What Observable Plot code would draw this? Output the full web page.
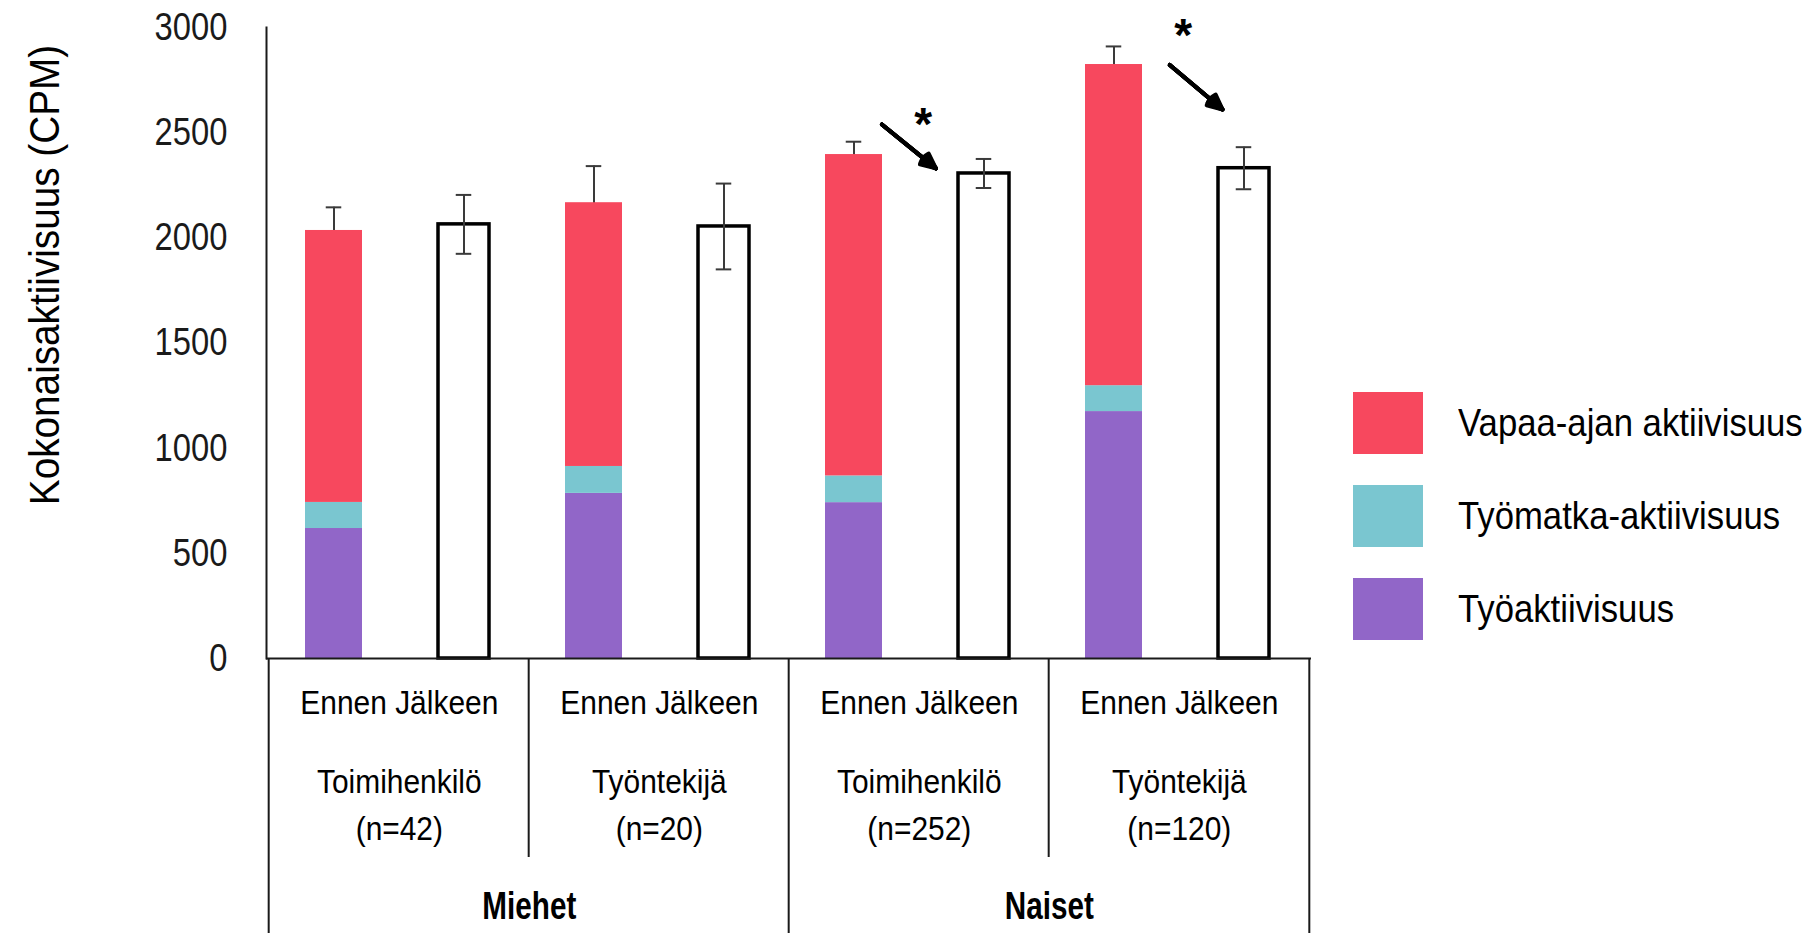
<!DOCTYPE html>
<html>
<head>
<meta charset="utf-8">
<script src="https://cdn.jsdelivr.net/npm/d3@7"></script>
<script src="https://cdn.jsdelivr.net/npm/@observablehq/plot@0.6"></script>
<style>
  body { margin: 0; background: #fff; font-family: "Liberation Sans", Arial, sans-serif; }
  #wrap { position: relative; width: 1808px; height: 933px; overflow: hidden; }
  #legend { position: absolute; left: 1353px; top: 392px; display: flex; flex-direction: column; gap: 31px; }
  .item { display: flex; align-items: center; height: 62px; }
  .sw { width: 70px; height: 62px; flex: none; }
  .lab { font-size: 39px; color: #000; margin-left: 35px; transform: scaleX(0.89); transform-origin: left center; white-space: nowrap; }
</style>
</head>
<body>
<div id="wrap"></div>
<script>
// ---------------- data ----------------
const groups = ["Miehet", "Naiset"];
const occupations = ["Toimihenkilö", "Työntekijä"];
const sampleSizes = ["(n=42)", "(n=20)", "(n=252)", "(n=120)"];
const times = ["Ennen", "Jälkeen"];
const series = ["Työaktiivisuus", "Työmatka-aktiivisuus", "Vapaa-ajan aktiivisuus"];
const seriesColors = ["#9166C8", "#7AC6D0", "#F7485E"];
// "Ennen" components, subgroup order: Miehet-Toimihenkilö, Miehet-Työntekijä, Naiset-Toimihenkilö, Naiset-Työntekijä
const workActivity = [618, 785, 741, 1174];
const commuteActivity = [124, 128, 127, 123];
const leisureActivity = [1293, 1254, 1528, 1527];
const beforeSE = [110, 174, 61, 86];
// "Jälkeen" totals
const afterTotal = [2064, 2054, 2306, 2331];
const afterSE = [140, 204, 69, 100];
const yTicks = [0, 500, 1000, 1500, 2000, 2500, 3000];
const yLabel = "Kokonaisaktiivisuus (CPM)";
// significant changes (arrow from "Ennen" to "Jälkeen", y in CPM units)
const significance = [
  {subgroup: 2, yFrom: 2647, yTo: 2144, starY: 2536},
  {subgroup: 3, yFrom: 3046, yTo: 2524, starY: 2959}
];

// ---------------- derived tables ----------------
const subgroups = groups.flatMap(g => occupations.map(o => ({group: g, occupation: o})));
subgroups.forEach((s, i) => { s.index = i; s.n = sampleSizes[i]; });
const barKey = (i, t) => `${i}|${t}`;
const barKeys = subgroups.flatMap((s, i) => times.map(t => barKey(i, t)));
const components = [workActivity, commuteActivity, leisureActivity];
const stackRows = subgroups.flatMap((s, i) =>
  series.map((name, j) => ({key: barKey(i, times[0]), series: name, value: components[j][i]})));
const beforeRows = subgroups.map((s, i) => ({key: barKey(i, times[0]), total: d3.sum(components, c => c[i]), se: beforeSE[i]}));
const afterRows = subgroups.map((s, i) => ({key: barKey(i, times[1]), total: afterTotal[i], se: afterSE[i]}));
const groupRows = groups.map(g => ({label: g, key: barKey(subgroups.findIndex(s => s.group === g), times[1])}));
const sigRows = significance.map(s => ({...s, from: barKey(s.subgroup, times[0]), to: barKey(s.subgroup, times[1])}));

// ---------------- layout ----------------
const W = 1808, H = 933;
const mL = 266, mR = 497, mT = 27, mB = 275;
const padInner = 0.56, padOuter = padInner / 2;
const step = (W - mL - mR) / barKeys.length;
const half = step / 2;
const bandwidth = step * (1 - padInner);
const capInset = (bandwidth - 16) / 2;
const errStroke = "#3a3a3a";
const lineColor = "#1a1a1a";

const errMarks = rows => [
  Plot.ruleX(rows, {x: "key", y1: d => d.total - d.se, y2: d => d.total + d.se, stroke: errStroke, strokeWidth: 2}),
  Plot.tickY(rows, {x: "key", y: d => d.total + d.se, stroke: errStroke, strokeWidth: 2, insetLeft: capInset, insetRight: capInset}),
  Plot.tickY(rows, {x: "key", y: d => d.total - d.se, stroke: errStroke, strokeWidth: 2, insetLeft: capInset, insetRight: capInset})
];

// arrow geometry (pixels): trims at both ends and a fan of heads to look filled
const arrowInsets = [[36, 62], [73, 28]];
const headAngles = [50, 38, 26, 14, 4];
const arrowMarks = sigRows.flatMap((s, i) => headAngles.map(a =>
  Plot.arrow([s], {x1: "from", x2: "to", y1: "yFrom", y2: "yTo",
    insetStart: arrowInsets[i][0], insetEnd: arrowInsets[i][1],
    stroke: "#000", strokeWidth: 4, headLength: 6.2, headAngle: a})));

const chart = Plot.plot({
  width: W, height: H,
  marginLeft: mL, marginRight: mR, marginTop: mT, marginBottom: mB,
  style: {fontFamily: '"Liberation Sans", Arial, sans-serif', color: "#000", background: "#fff", overflow: "visible"},
  x: {domain: barKeys, paddingInner: padInner, paddingOuter: padOuter, axis: null},
  y: {domain: [0, 3000], axis: null},
  color: {domain: series, range: seriesColors},
  marks: [
    Plot.axisY({ticks: yTicks, tickSize: 0, tickPadding: 39, fontSize: 39, tickFormat: d => String(d), label: null, fill: "#1a1a1a"}),
    Plot.text([yLabel], {frameAnchor: "left", textAnchor: "middle", rotate: -90, dx: -221, dy: -68, fontSize: 43, fill: "#000"}),
    ...errMarks(beforeRows),
    Plot.barY(stackRows, {x: "key", y: "value", fill: "series", order: series}),
    Plot.barY(afterRows, {x: "key", y: "total", fill: "white", stroke: "#000", strokeWidth: 3.5, insetLeft: 3, insetRight: 3}),
    ...errMarks(afterRows),
    Plot.ruleY([0], {stroke: lineColor, strokeWidth: 2}),
    Plot.frame({anchor: "left", stroke: lineColor, strokeWidth: 2}),
    // table lines below the axis
    Plot.ruleX(subgroups.filter(s => s.occupation === occupations[0]), {x: s => barKey(s.index, times[0]), dx: -half, y: 0, insetBottom: -mB, stroke: lineColor, strokeWidth: 2}),
    Plot.ruleX(subgroups.filter(s => s.occupation === occupations[1]), {x: s => barKey(s.index, times[0]), dx: -half, y: 0, insetBottom: -(mB - 76), stroke: lineColor, strokeWidth: 2}),
    Plot.ruleX([barKeys[barKeys.length - 1]], {x: d => d, dx: half, y: 0, insetBottom: -mB, stroke: lineColor, strokeWidth: 2}),
    // table labels
    Plot.text(subgroups, {x: s => barKey(s.index, times[0]), dx: half, frameAnchor: "bottom", dy: 55, text: () => times.join(" "), fontSize: 34, fill: "#000"}),
    Plot.text(subgroups, {x: s => barKey(s.index, times[0]), dx: half, frameAnchor: "bottom", dy: 134, text: "occupation", fontSize: 34, fill: "#000"}),
    Plot.text(subgroups, {x: s => barKey(s.index, times[0]), dx: half, frameAnchor: "bottom", dy: 181, text: "n", fontSize: 34, fill: "#000"}),
    Plot.text(groupRows, {x: "key", dx: half, frameAnchor: "bottom", dy: 260, text: "label", fontSize: 38, fontWeight: "bold", fill: "#000"}),
    // significance annotations
    ...arrowMarks,
    Plot.text(sigRows, {x: "from", y: "starY", dx: half + 4, text: () => "*", fontSize: 46, fontWeight: "bold", fill: "#000"})
  ]
});

const wrap = document.getElementById("wrap");
wrap.appendChild(chart);

// condense text horizontally (the original uses a narrow rendering of Arial)
function condense(selector, k) {
  chart.querySelectorAll(selector).forEach(t => {
    const n = t.getComputedTextLength();
    if (n > 0) { t.setAttribute("textLength", (n * k).toFixed(1)); t.setAttribute("lengthAdjust", "spacingAndGlyphs"); }
  });
}
condense('g[font-size="39"] text', 0.84);
condense('g[font-size="43"] text', 0.9);
condense('g[font-size="34"] text', 0.88);
condense('g[font-size="38"] text', 0.78);

// legend (top to bottom: reverse of stacking order)
const legend = document.createElement("div");
legend.id = "legend";
series.slice().reverse().forEach(name => {
  const item = document.createElement("div");
  item.className = "item";
  const sw = document.createElement("div");
  sw.className = "sw";
  sw.style.background = seriesColors[series.indexOf(name)];
  const lab = document.createElement("span");
  lab.className = "lab";
  lab.textContent = name;
  item.appendChild(sw); item.appendChild(lab);
  legend.appendChild(item);
});
wrap.appendChild(legend);
</script>
</body>
</html>
